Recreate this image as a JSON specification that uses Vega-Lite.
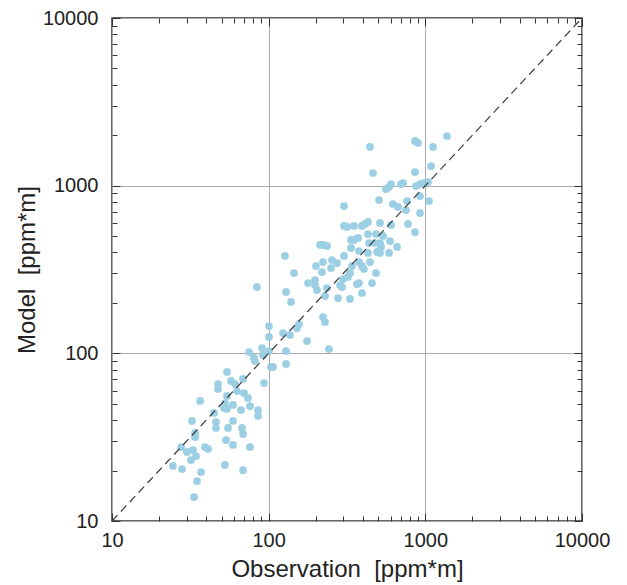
{
  "$schema": "https://vega.github.io/schema/vega-lite/v6.json",
  "width": 470,
  "height": 503,
  "autosize": "none",
  "padding": {"left": 112, "top": 18, "right": 45, "bottom": 64},
  "background": "white",
  "config": {
    "view": {"stroke": "#333333", "strokeWidth": 1.5},
    "font": "Liberation Sans"
  },
  "datasets": {
    "pts": [
      {"obs": 24.5, "model": 21.3}, {"obs": 28.0, "model": 20.4}, {"obs": 27.6, "model": 27.6}, {"obs": 30.1, "model": 25.8},
      {"obs": 32.9, "model": 26.5}, {"obs": 34.4, "model": 24.4}, {"obs": 31.9, "model": 23.1}, {"obs": 32.4, "model": 39.5},
      {"obs": 33.9, "model": 33.5}, {"obs": 33.9, "model": 31.7}, {"obs": 34.9, "model": 17.3}, {"obs": 33.4, "model": 13.9},
      {"obs": 37.0, "model": 19.6}, {"obs": 39.2, "model": 27.6}, {"obs": 41.0, "model": 26.9}, {"obs": 36.5, "model": 52.0},
      {"obs": 44.8, "model": 44.1}, {"obs": 46.1, "model": 38.9}, {"obs": 46.1, "model": 35.9}, {"obs": 47.5, "model": 65.6},
      {"obs": 47.5, "model": 61.3}, {"obs": 51.9, "model": 47.2}, {"obs": 54.2, "model": 46.6}, {"obs": 52.6, "model": 50.5},
      {"obs": 54.2, "model": 55.7}, {"obs": 53.4, "model": 30.4}, {"obs": 52.6, "model": 21.6}, {"obs": 55.0, "model": 35.9},
      {"obs": 59.2, "model": 49.2}, {"obs": 59.2, "model": 39.5}, {"obs": 59.2, "model": 28.4}, {"obs": 54.2, "model": 77.4},
      {"obs": 57.5, "model": 68.4}, {"obs": 61.0, "model": 65.6}, {"obs": 62.8, "model": 59.6}, {"obs": 66.6, "model": 45.9},
      {"obs": 67.6, "model": 35.9}, {"obs": 68.6, "model": 33.0}, {"obs": 68.6, "model": 20.1}, {"obs": 68.6, "model": 70.3},
      {"obs": 69.6, "model": 58.0}, {"obs": 73.8, "model": 54.2}, {"obs": 76.0, "model": 48.5}, {"obs": 76.0, "model": 27.6},
      {"obs": 85.5, "model": 45.9}, {"obs": 85.5, "model": 42.3}, {"obs": 93.4, "model": 66.5}, {"obs": 74.9, "model": 101.8},
      {"obs": 90.7, "model": 107.6}, {"obs": 92.0, "model": 97.7}, {"obs": 80.6, "model": 93.8}, {"obs": 81.8, "model": 90.0},
      {"obs": 100.5, "model": 103.2}, {"obs": 100.5, "model": 125.2}, {"obs": 103.5, "model": 82.9}, {"obs": 106.6, "model": 82.9},
      {"obs": 100.5, "model": 145.5}, {"obs": 123.5, "model": 132.2}, {"obs": 136.8, "model": 128.6}, {"obs": 129.0, "model": 103.2},
      {"obs": 129.0, "model": 86.4}, {"obs": 151.7, "model": 141.6}, {"obs": 156.2, "model": 149.6}, {"obs": 175.7, "model": 118.4},
      {"obs": 242.7, "model": 106.1}, {"obs": 222.3, "model": 164.7}, {"obs": 228.9, "model": 153.8}, {"obs": 84.2, "model": 248.7},
      {"obs": 127.1, "model": 380.7}, {"obs": 145.1, "model": 301.3}, {"obs": 129.0, "model": 232.2}, {"obs": 138.9, "model": 202.4},
      {"obs": 178.3, "model": 262.7}, {"obs": 197.6, "model": 273.7}, {"obs": 197.6, "model": 255.6}, {"obs": 203.5, "model": 238.6},
      {"obs": 235.7, "model": 245.2}, {"obs": 228.9, "model": 219.8}, {"obs": 277.1, "model": 213.8}, {"obs": 330.4, "model": 210.9},
      {"obs": 285.4, "model": 255.6}, {"obs": 293.9, "model": 248.7}, {"obs": 366.2, "model": 259.1}, {"obs": 377.2, "model": 262.7},
      {"obs": 456.8, "model": 262.7}, {"obs": 394.2, "model": 229.0}, {"obs": 200.5, "model": 331.7}, {"obs": 222.3, "model": 350.5},
      {"obs": 253.6, "model": 360.3}, {"obs": 273.1, "model": 345.7}, {"obs": 219.0, "model": 305.5}, {"obs": 249.9, "model": 322.8},
      {"obs": 298.2, "model": 277.5}, {"obs": 320.9, "model": 285.3}, {"obs": 330.4, "model": 301.3}, {"obs": 340.3, "model": 331.7},
      {"obs": 377.2, "model": 350.5}, {"obs": 394.2, "model": 331.7}, {"obs": 405.9, "model": 318.4}, {"obs": 443.5, "model": 350.5},
      {"obs": 484.2, "model": 301.3}, {"obs": 302.6, "model": 380.7}, {"obs": 212.7, "model": 442.9}, {"obs": 222.3, "model": 442.9},
      {"obs": 235.7, "model": 436.8}, {"obs": 335.3, "model": 474.2}, {"obs": 350.4, "model": 474.2}, {"obs": 371.7, "model": 487.4},
      {"obs": 335.3, "model": 424.9}, {"obs": 377.2, "model": 407.7}, {"obs": 430.5, "model": 396.7}, {"obs": 437.0, "model": 455.0},
      {"obs": 477.2, "model": 455.0}, {"obs": 513.6, "model": 455.0}, {"obs": 521.2, "model": 430.8}, {"obs": 491.4, "model": 402.2},
      {"obs": 513.6, "model": 396.7}, {"obs": 586.3, "model": 396.7}, {"obs": 595.0, "model": 467.7}, {"obs": 659.5, "model": 430.8},
      {"obs": 430.5, "model": 514.9}, {"obs": 484.2, "model": 514.9}, {"obs": 536.7, "model": 501.0}, {"obs": 302.6, "model": 574.9},
      {"obs": 316.2, "model": 567.0}, {"obs": 350.4, "model": 574.9}, {"obs": 394.2, "model": 574.9}, {"obs": 412.0, "model": 590.8},
      {"obs": 430.5, "model": 607.3}, {"obs": 513.6, "model": 599.0}, {"obs": 603.8, "model": 582.8}, {"obs": 775.3, "model": 590.8},
      {"obs": 859.0, "model": 529.2}, {"obs": 302.6, "model": 756.3}, {"obs": 506.1, "model": 821.0}, {"obs": 621.8, "model": 777.4},
      {"obs": 669.3, "model": 746.1}, {"obs": 752.8, "model": 715.9}, {"obs": 924.7, "model": 687.0}, {"obs": 763.9, "model": 809.9},
      {"obs": 924.7, "model": 867.4}, {"obs": 1055, "model": 809.9}, {"obs": 561.0, "model": 955.0}, {"obs": 586.3, "model": 981.6},
      {"obs": 603.8, "model": 1023}, {"obs": 699.5, "model": 1023}, {"obs": 720.4, "model": 1037}, {"obs": 871.8, "model": 995},
      {"obs": 924.7, "model": 1023}, {"obs": 980.6, "model": 1037}, {"obs": 1040, "model": 1051}, {"obs": 859.0, "model": 1206},
      {"obs": 1087, "model": 1310}, {"obs": 463.4, "model": 1190}, {"obs": 443.5, "model": 1701}, {"obs": 859.0, "model": 1847},
      {"obs": 897.8, "model": 1797}, {"obs": 1119, "model": 1701}, {"obs": 1375, "model": 1978}
    ],
    "diag": [{"obs": 10, "model": 10}, {"obs": 10000, "model": 10000}]
  },
  "layer": [
    {
      "data": {"name": "pts"},
      "mark": {"type": "circle", "size": 60, "color": "#9ccfe3", "opacity": 1},
      "encoding": {
        "x": {
          "field": "obs", "type": "quantitative",
          "scale": {"type": "log", "domain": [10, 10000], "nice": false},
          "axis": {
            "orient": "bottom",
            "values": [10,20,30,40,50,60,70,80,90,100,200,300,400,500,600,700,800,900,1000,2000,3000,4000,5000,6000,7000,8000,9000,10000],
            "format": "d",
            "labelExpr": "indexof([10,100,1000,10000], datum.value) >= 0 ? datum.label : ''",
            "tickSize": {"condition": {"test": "indexof([10,100,1000,10000], datum.value) >= 0", "value": -8}, "value": -5},
            "tickColor": "#333333",
            "tickWidth": 1,
            "grid": true,
            "gridColor": "#aaaaaa",
            "gridWidth": 1,
            "gridOpacity": {"condition": {"test": "indexof([10,100,1000,10000], datum.value) >= 0", "value": 1}, "value": 0},
            "domain": false,
            "labelFontSize": 20,
            "labelColor": "#222222",
            "labelPadding": 17,
            "labelOverlap": false,
            "labelFlush": false,
            "title": "Observation\u00a0 [ppm*m]",
            "titleFontSize": 24,
            "titleFontWeight": "normal",
            "titleColor": "#222222",
            "titlePadding": 4
          }
        },
        "y": {
          "field": "model", "type": "quantitative",
          "scale": {"type": "log", "domain": [10, 10000], "nice": false},
          "axis": {
            "orient": "left",
            "values": [10,20,30,40,50,60,70,80,90,100,200,300,400,500,600,700,800,900,1000,2000,3000,4000,5000,6000,7000,8000,9000,10000],
            "format": "d",
            "labelExpr": "indexof([10,100,1000,10000], datum.value) >= 0 ? datum.label : ''",
            "tickSize": {"condition": {"test": "indexof([10,100,1000,10000], datum.value) >= 0", "value": -8}, "value": -5},
            "tickColor": "#333333",
            "tickWidth": 1,
            "grid": true,
            "gridColor": "#aaaaaa",
            "gridWidth": 1,
            "gridOpacity": {"condition": {"test": "indexof([10,100,1000,10000], datum.value) >= 0", "value": 1}, "value": 0},
            "domain": false,
            "labelFontSize": 20,
            "labelColor": "#222222",
            "labelPadding": 22,
            "labelOverlap": false,
            "title": "Model\u00a0 [ppm*m]",
            "titleFontSize": 24,
            "titleFontWeight": "normal",
            "titleColor": "#222222",
            "titlePadding": 3
          }
        }
      }
    },
    {
      "data": {"name": "diag"},
      "mark": {"type": "line", "color": "#3a3a3a", "strokeDash": [8, 5], "strokeWidth": 1.2},
      "encoding": {
        "x": {
          "field": "obs", "type": "quantitative",
          "scale": {"type": "log", "domain": [10, 10000], "nice": false},
          "axis": {
            "orient": "top",
            "values": [10,20,30,40,50,60,70,80,90,100,200,300,400,500,600,700,800,900,1000,2000,3000,4000,5000,6000,7000,8000,9000,10000],
            "labels": false,
            "tickSize": {"condition": {"test": "indexof([10,100,1000,10000], datum.value) >= 0", "value": -8}, "value": -5},
            "tickColor": "#333333",
            "grid": false,
            "domain": false,
            "title": null
          }
        },
        "y": {
          "field": "model", "type": "quantitative",
          "scale": {"type": "log", "domain": [10, 10000], "nice": false},
          "axis": {
            "orient": "right",
            "values": [10,20,30,40,50,60,70,80,90,100,200,300,400,500,600,700,800,900,1000,2000,3000,4000,5000,6000,7000,8000,9000,10000],
            "labels": false,
            "tickSize": {"condition": {"test": "indexof([10,100,1000,10000], datum.value) >= 0", "value": -8}, "value": -5},
            "tickColor": "#333333",
            "grid": false,
            "domain": false,
            "title": null
          }
        }
      }
    }
  ],
  "resolve": {"axis": {"x": "independent", "y": "independent"}}
}
